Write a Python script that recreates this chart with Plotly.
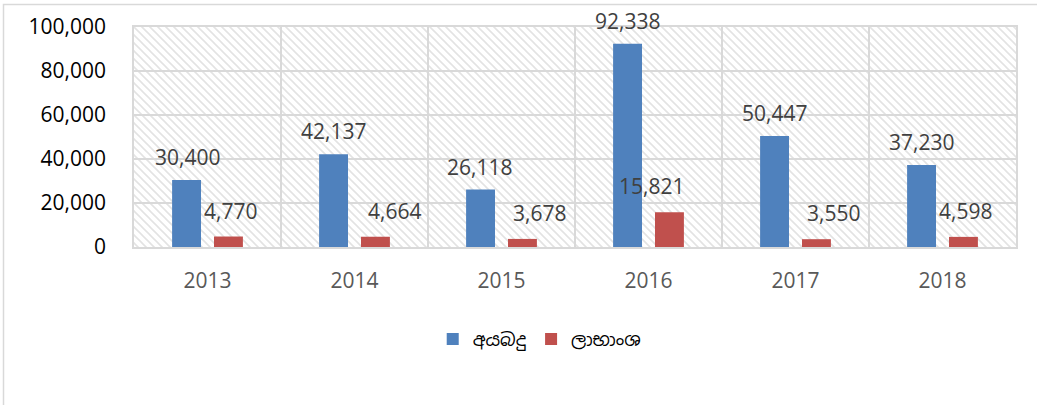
import plotly.graph_objects as go
import base64

years = ["2013", "2014", "2015", "2016", "2017", "2018"]
income = [30400, 42137, 26118, 92338, 50447, 37230]
dividend = [4770, 4664, 3678, 15821, 3550, 4598]
series_names = ["අයබදු", "ලාභාංශ"]
y_ticks = [0, 20000, 40000, 60000, 80000, 100000]

# label pixel offsets (style, not data)
blue_dx = [-20, -21, -22, -21, -21, -21]
red_dx = [23, 40, 38, 3, 38, 23]

BLUE = "#4f81bd"
RED = "#c0504d"
GRID = "#d9d9d9"
FONT = "Open Sans, Noto Sans Sinhala, Noto Sans, sans-serif"

W, H = 1037, 405
L, R, T, B = 134, 21, 27, 158
PW, PH = W - L - R, H - T - B

svg = f'''<svg xmlns="http://www.w3.org/2000/svg" width="{PW}" height="{PH}" viewBox="0 0 {PW} {PH}" preserveAspectRatio="none">
<defs><pattern id="h" patternUnits="userSpaceOnUse" width="8" height="8">
<path d="M-2,-2 L10,10 M-2,6 L2,10 M6,-2 L10,2" stroke="#e3e3e3" stroke-width="1.6"/>
</pattern></defs>
<rect width="{PW}" height="{PH}" fill="white"/>
<rect width="{PW}" height="{PH}" fill="url(#h)"/>
</svg>'''
svg_uri = "data:image/svg+xml;base64," + base64.b64encode(svg.encode()).decode()

fig = go.Figure()
fig.add_trace(go.Bar(x=years, y=income, name=series_names[0], marker=dict(color=BLUE, line=dict(width=0))))
fig.add_trace(go.Bar(x=years, y=dividend, name=series_names[1], marker=dict(color=RED, line=dict(width=0))))

annotations = []
for i, y in enumerate(years):
    annotations.append(dict(x=i, y=income[i], xref="x", yref="y", text=f"{income[i]:,}",
                            showarrow=False, xshift=blue_dx[i], yshift=23, yanchor="middle",
                            font=dict(family=FONT, size=21, color="#404040")))
    annotations.append(dict(x=i, y=dividend[i], xref="x", yref="y", text=f"{dividend[i]:,}",
                            showarrow=False, xshift=red_dx[i], yshift=26, yanchor="middle",
                            font=dict(family=FONT, size=21, color="#404040")))

fig.update_layout(
    width=W, height=H,
    margin=dict(l=L, r=R, t=T, b=B, pad=0),
    paper_bgcolor="white",
    plot_bgcolor="rgba(0,0,0,0)",
    barmode="group",
    bargap=0.43,
    bargroupgap=0.31,
    font=dict(family=FONT),
    annotations=annotations,
    images=[dict(source=svg_uri, xref="paper", yref="paper", x=0, y=1, sizex=1, sizey=1,
                 xanchor="left", yanchor="top", sizing="stretch", layer="below")],
    shapes=[dict(type="rect", xref="paper", yref="paper",
                 x0=(3.5 - L) / PW, x1=1.2, y0=-1.5, y1=(H - B - 4.5) / PH,
                 line=dict(color=GRID, width=1.5), fillcolor="rgba(0,0,0,0)", layer="below")],
    legend=dict(orientation="h", x=0.46, xanchor="center", y=-0.42, yanchor="middle",
                font=dict(family="Noto Sans Sinhala, Noto Sans, sans-serif", size=18, color="#000000"),
                itemwidth=30, traceorder="normal"),
    xaxis=dict(type="category", range=[-0.5, len(years) - 0.5], autorange=False,
               tickson="boundaries", showgrid=True, gridcolor=GRID, gridwidth=1.5,
               showline=True, linecolor=GRID, linewidth=1.5, mirror=True, ticks="",
               tickangle=0,
               tickfont=dict(family=FONT, size=21, color="#595959"), ticklabelstandoff=14),
    yaxis=dict(range=[0, 100000], autorange=False, tickvals=y_ticks, tickformat=",", showgrid=True,
               gridcolor=GRID, gridwidth=1.5, showline=True, linecolor=GRID, linewidth=1.5, mirror=True,
               zeroline=False, ticks="", tickfont=dict(family=FONT, size=21, color="#000000"),
               ticklabelstandoff=22),
)

fig.write_html("out.html")
